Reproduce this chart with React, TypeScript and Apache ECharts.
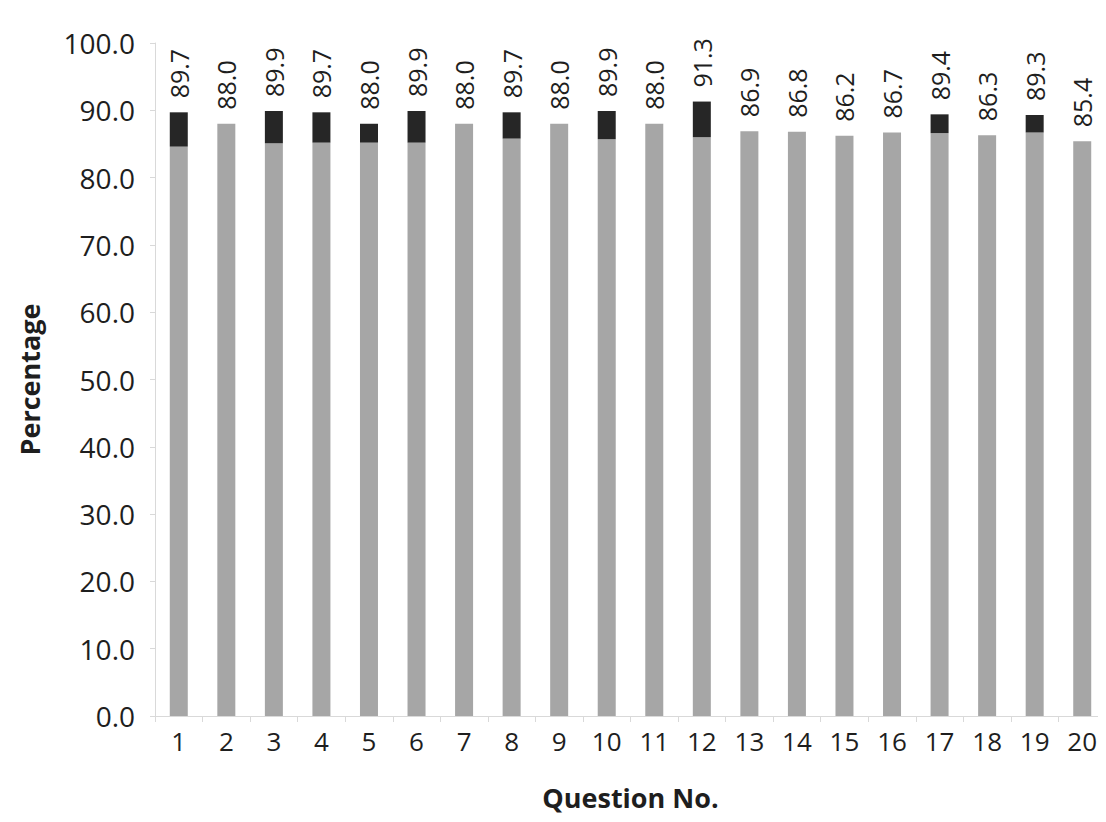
import React, { useEffect, useRef } from "react";
import * as echarts from "echarts";

const categories = ["1","2","3","4","5","6","7","8","9","10","11","12","13","14","15","16","17","18","19","20"];
const grayValues = [84.6, 88.0, 85.1, 85.2, 85.2, 85.2, 88.0, 85.8, 88.0, 85.7, 88.0, 86.0, 86.9, 86.8, 86.2, 86.7, 86.6, 86.3, 86.7, 85.4];
const blackValues = [5.1, 0, 4.8, 4.5, 2.8, 4.7, 0, 3.9, 0, 4.2, 0, 5.3, 0, 0, 0, 0, 2.8, 0, 2.6, 0];
const totalLabels = ["89.7","88.0","89.9","89.7","88.0","89.9","88.0","89.7","88.0","89.9","88.0","91.3","86.9","86.8","86.2","86.7","89.4","86.3","89.3","85.4"];
const yTicks = [0, 10, 20, 30, 40, 50, 60, 70, 80, 90, 100];

const FONT = "'Open Sans', 'DejaVu Sans', sans-serif";

export default function App() {
  const ref = useRef<HTMLDivElement>(null);
  useEffect(() => {
    if (!ref.current) return;
    const chart = echarts.init(ref.current, undefined, { renderer: "svg" });
    chart.setOption({
      animation: false,
      backgroundColor: "#ffffff",
      grid: { left: 144, right: 0, top: 35, bottom: 106, containLabel: false },
      xAxis: {
        type: "category",
        data: categories,
        name: "Question No.",
        nameLocation: "middle",
        nameGap: 68,
        nameTextStyle: { fontFamily: FONT, fontSize: 27, fontWeight: "bold", color: "#1e1e1e" },
        axisLine: { show: true, lineStyle: { color: "#d9d9d9", width: 1 } },
        axisTick: { show: true, length: 6, lineStyle: { color: "#d9d9d9" } },
        axisLabel: { fontFamily: FONT, fontSize: 26, color: "#1e1e1e", margin: 12 },
      },
      yAxis: {
        type: "value",
        min: yTicks[0],
        max: yTicks[yTicks.length - 1],
        interval: 10,
        name: "Percentage",
        nameLocation: "middle",
        nameRotate: 90,
        nameGap: 112,
        nameTextStyle: { fontFamily: FONT, fontSize: 27, fontWeight: "bold", color: "#1e1e1e" },
        axisLine: { show: true, lineStyle: { color: "#d9d9d9", width: 1 } },
        axisTick: { show: true, length: 5, lineStyle: { color: "#d9d9d9" } },
        splitLine: { show: false },
        axisLabel: {
          fontFamily: FONT,
          fontSize: 28,
          color: "#1e1e1e",
          margin: 20,
          formatter: (v: number) => v.toFixed(1),
        },
      },
      series: [
        {
          type: "bar",
          stack: "total",
          data: grayValues,
          barWidth: 18,
          itemStyle: { color: "#a6a6a6" },
        },
        {
          type: "bar",
          stack: "total",
          data: blackValues,
          barWidth: 18,
          itemStyle: { color: "#262626" },
          label: {
            show: true,
            position: "top",
            rotate: 90,
            align: "left",
            verticalAlign: "middle",
            distance: 14,
            fontFamily: FONT,
            fontSize: 25,
            color: "#1e1e1e",
            formatter: (p: any) => totalLabels[p.dataIndex],
          },
        },
      ],
    });
    return () => chart.dispose();
  }, []);
  return <div ref={ref} style={{ width: 1098, height: 814 }} />;
}
